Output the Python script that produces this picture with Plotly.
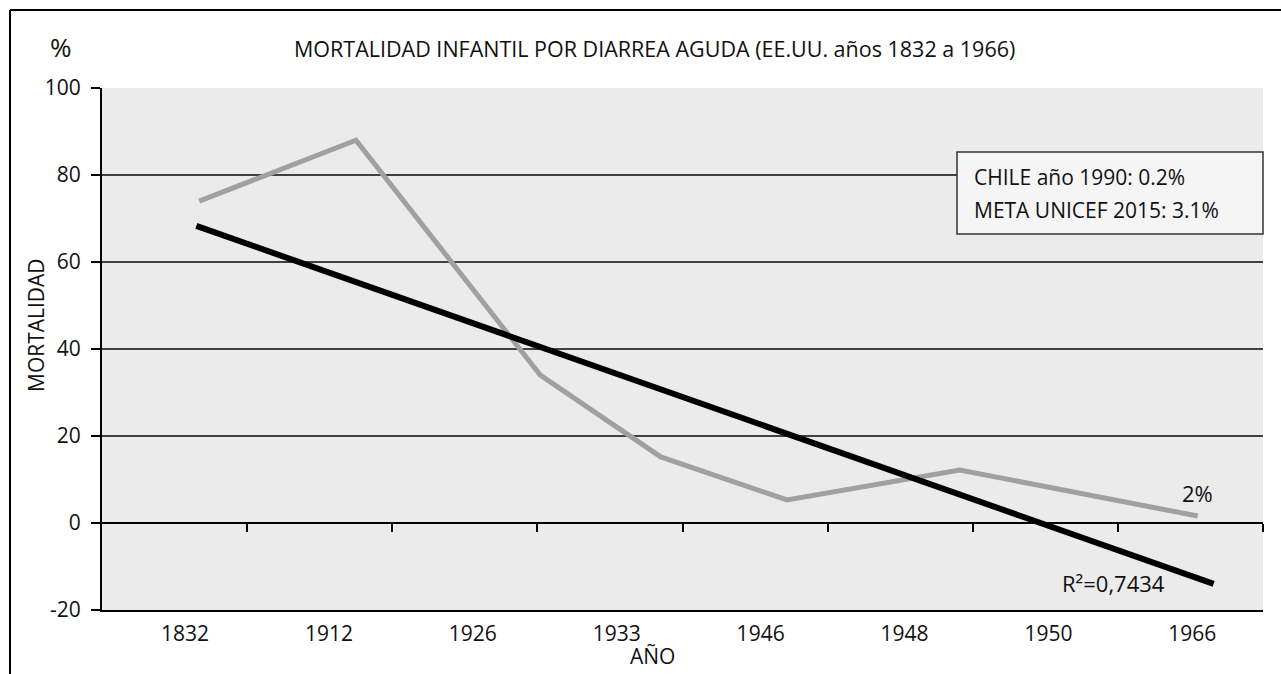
import plotly.graph_objects as go

# ---- data ----
years = ["1832", "1912", "1926", "1933", "1946", "1948", "1950", "1966"]
gray_x = [0.17, 1.25, 2.52, 3.35, 4.22, 5.41, 7.05]
gray_y = [74, 88, 34, 15.2, 5.3, 12.2, 1.6]
trend_x = [0.15, 7.16]
trend_y = [68.3, -14.0]
y_ticks = [-20, 0, 20, 40, 60, 80, 100]
y_ticktext = ["-20", "0", "20", "40", "60", "80", "100"]

W, H = 1281, 674
L, R, T, B = 102, 1263, 88, 610  # plot area in px


def fx(px):
    return (px - L) / (R - L)


def fy(py):
    return (B - py) / (B - T)


FONT = "Open Sans"
TXT = "#111111"
label_pos = [0.072 + i * 0.9916 for i in range(len(years))]

fig = go.Figure()
fig.add_trace(go.Scatter(x=gray_x, y=gray_y, mode="lines",
                         line=dict(color="#a0a0a0", width=5),
                         hoverinfo="skip", showlegend=False))
fig.add_trace(go.Scatter(x=trend_x, y=trend_y, mode="lines",
                         line=dict(color="#000000", width=6),
                         hoverinfo="skip", showlegend=False))
# empty trace to register the tick-mark axis at the zero line
fig.add_trace(go.Scatter(x=[None], y=[None], xaxis="x2", yaxis="y",
                         hoverinfo="skip", showlegend=False))

fig.update_layout(
    width=W, height=H, autosize=False,
    margin=dict(l=L, r=W - R, t=T, b=H - B, pad=0),
    paper_bgcolor="white", plot_bgcolor="#ebebeb",
    font=dict(family=FONT, size=21, color=TXT),
    showlegend=False,
    xaxis=dict(range=[-0.5, 7.5], tickvals=label_pos, ticktext=years,
               ticks="", showgrid=False, zeroline=False,
               showline=True, linecolor="#000", linewidth=2,
               ticklabelstandoff=4, tickfont=dict(size=21)),
    xaxis2=dict(range=[-0.5, 7.5], overlaying="x", anchor="free",
                position=1 / 6, tickvals=[i + 0.5 for i in range(8)],
                ticks="outside", ticklen=8, tickwidth=2, tickcolor="#000",
                showticklabels=False, showgrid=False, zeroline=False,
                showline=False),
    yaxis=dict(range=[-20, 100], tickvals=y_ticks, ticktext=y_ticktext,
               ticks="outside", ticklen=9, tickwidth=1.5, tickcolor="#000",
               showgrid=True, gridcolor="#404040", gridwidth=1.5,
               zeroline=True, zerolinecolor="#000", zerolinewidth=2,
               showline=True, linecolor="#000", linewidth=2,
               ticklabelstandoff=6, tickfont=dict(size=21)),
)

ann = [
    dict(text="%", x=fx(61), y=fy(47), size=26),
    dict(text="MORTALIDAD INFANTIL POR DIARREA AGUDA (EE.UU. años 1832 a 1966)",
         x=fx(654), y=fy(48), size=21.5),
    dict(text="MORTALIDAD", x=fx(36), y=fy(325), textangle=-90, size=21),
    dict(text="AÑO", x=fx(652), y=fy(656), size=21),
    dict(text="2%", x=fx(1197), y=fy(493), size=22),
    dict(text="R²=0,7434", x=fx(1113), y=fy(583), size=22),
]
for a in ann:
    fig.add_annotation(text=a["text"], x=a["x"], y=a["y"], xref="paper",
                       yref="paper", showarrow=False, xanchor="center",
                       yanchor="middle", textangle=a.get("textangle", 0),
                       font=dict(family=FONT, size=a.get("size", 21), color=TXT))

# info box
fig.add_shape(type="rect", xref="paper", yref="paper",
              x0=fx(957), x1=fx(1263), y0=fy(234), y1=fy(152),
              line=dict(color="#333", width=1.5), fillcolor="#f5f5f5")
for txt, yy in [("CHILE año 1990: 0.2%", 177), ("META UNICEF 2015: 3.1%", 210)]:
    fig.add_annotation(text=txt, x=fx(972), y=fy(yy), xref="paper", yref="paper",
                       showarrow=False, xanchor="left", yanchor="middle",
                       font=dict(family=FONT, size=21, color=TXT))

# outer frame (top and left edges)
fig.add_shape(type="line", xref="paper", yref="paper",
              x0=fx(10), x1=fx(1281), y0=fy(10), y1=fy(10),
              line=dict(color="#000", width=2))
fig.add_shape(type="line", xref="paper", yref="paper",
              x0=fx(10), x1=fx(10), y0=fy(10), y1=fy(674),
              line=dict(color="#000", width=2))

fig.write_html("out.html", config={"displayModeBar": False},
               post_script="document.body.style.margin='0';document.body.style.overflow='hidden';")
